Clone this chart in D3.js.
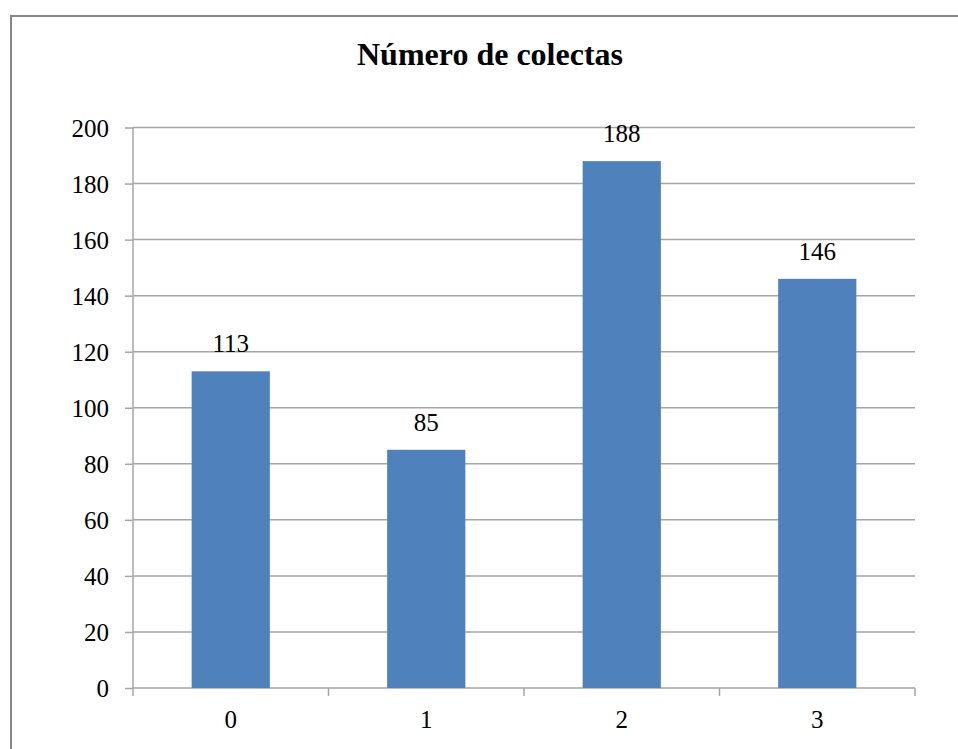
<!DOCTYPE html>
<html>
<head>
<meta charset="utf-8">
<script src="https://cdn.jsdelivr.net/npm/d3@7"></script>
<style>
  html, body { margin: 0; padding: 0; background: #fff; overflow: hidden; }
  text { font-family: "Liberation Serif", "Times New Roman", serif; fill: #000; }
</style>
</head>
<body>
<svg id="chart"></svg>
<script>
// chart data
const title = "Número de colectas";
const categories = ["0", "1", "2", "3"];
const values = [113, 85, 188, 146];
const yTicks = [0, 20, 40, 60, 80, 100, 120, 140, 160, 180, 200];

const width = 958, height = 749;
const margin = {top: 127.5, right: 43, bottom: 61, left: 133};

const svg = d3.select("#chart").attr("width", width).attr("height", height);

// outer frame (runs off the right and bottom edge like the source)
svg.append("rect")
    .attr("x", 11).attr("y", 16)
    .attr("width", width + 20).attr("height", height + 20)
    .attr("fill", "none")
    .attr("stroke", "#878787")
    .attr("stroke-width", 2);

svg.append("text")
    .attr("x", 490).attr("y", 65)
    .attr("text-anchor", "middle")
    .style("font-weight", "bold")
    .style("font-size", "32px")
    .text(title);

const plotW = width - margin.left - margin.right;
const plotH = height - margin.top - margin.bottom;
const g = svg.append("g").attr("transform", "translate(" + margin.left + "," + margin.top + ")");

const x = d3.scaleBand().domain(categories).range([0, plotW]).paddingInner(0.6).paddingOuter(0.3);
const y = d3.scaleLinear().domain([0, 200]).range([plotH, 0]);

// gridlines
g.append("g").selectAll("line")
    .data(yTicks.filter(d => d > 0))
    .enter().append("line")
    .attr("x1", 0).attr("x2", plotW)
    .attr("y1", d => y(d)).attr("y2", d => y(d))
    .attr("stroke", "#a6a6a6")
    .attr("stroke-width", 1.5);

// y axis
const yAxis = g.append("g")
    .call(d3.axisLeft(y).tickValues(yTicks).tickSize(8).tickPadding(16));
yAxis.attr("font-family", null);
yAxis.selectAll("line, path").attr("stroke", "#a6a6a6").attr("stroke-width", 1.5);
yAxis.select(".domain").attr("d", "M0," + y(0) + "V" + y(200));
yAxis.selectAll("text")
    .style("font-family", "'Liberation Serif', 'Times New Roman', serif")
    .style("font-size", "25px")
    .attr("dy", "0.35em");

// x axis: ticks between categories
const step = x.step();
const bounds = d3.range(categories.length + 1).map(i => i * step);
const xAxis = g.append("g").attr("transform", "translate(0," + plotH + ")");
xAxis.append("line")
    .attr("x1", 0).attr("x2", plotW)
    .attr("stroke", "#a6a6a6").attr("stroke-width", 1.5);
xAxis.selectAll(".tk")
    .data(bounds)
    .enter().append("line")
    .attr("class", "tk")
    .attr("x1", d => d).attr("x2", d => d)
    .attr("y1", 0).attr("y2", 8)
    .attr("stroke", "#a6a6a6").attr("stroke-width", 1.5);
xAxis.selectAll("text")
    .data(categories)
    .enter().append("text")
    .attr("x", d => x(d) + x.bandwidth() / 2)
    .attr("y", 40)
    .attr("text-anchor", "middle")
    .style("font-size", "25px")
    .text(d => d);

// bars
const bars = g.append("g").selectAll("g")
    .data(values)
    .enter().append("g");

bars.append("rect")
    .attr("x", (d, i) => x(categories[i]))
    .attr("y", d => y(d))
    .attr("width", x.bandwidth())
    .attr("height", d => y(0) - y(d))
    .attr("fill", "#4f81bd");

bars.append("text")
    .attr("x", (d, i) => x(categories[i]) + x.bandwidth() / 2)
    .attr("y", d => y(d) - 19)
    .attr("text-anchor", "middle")
    .style("font-size", "25px")
    .text(d => d);
</script>
</body>
</html>
